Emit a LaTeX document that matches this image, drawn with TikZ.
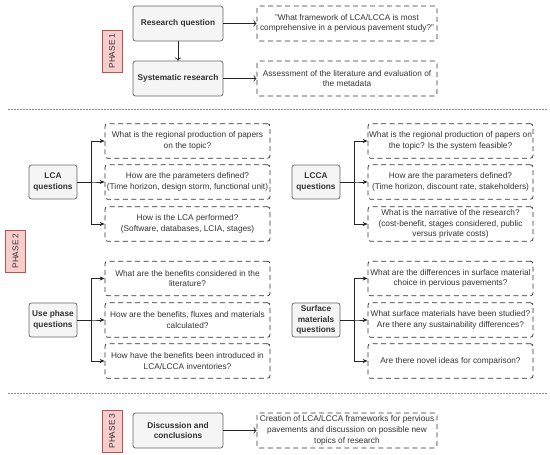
\documentclass[tikz,border=0pt]{standalone}
\usepackage{fontspec}
\setmainfont{Liberation Sans}
\usetikzlibrary{arrows.meta}
\definecolor{boxfill}{HTML}{F5F5F5}
\definecolor{boxline}{HTML}{666666}
\definecolor{phasefill}{HTML}{F8CECC}
\definecolor{phaseline}{HTML}{B85450}
\definecolor{ink}{HTML}{333333}

\tikzset{
  gbox/.style={draw=boxline, fill=boxfill, line width=0.7pt, rounded corners=2.5pt, align=center,
    font=\fontsize{8.3}{10.7}\selectfont\bfseries, text=ink, inner sep=1pt},
  qbox/.style={draw=ink, line width=0.75pt, dash pattern=on 5pt off 3.5pt, rounded corners=2.5pt, align=center,
    font=\fontsize{8.3}{10.7}\selectfont, text=ink, inner sep=1pt},
  phase/.style={draw=phaseline, fill=phasefill, line width=0.7pt, rotate=90, font=\fontsize{8.3}{10}\selectfont,
    text=ink, minimum width=42pt, minimum height=20pt, inner sep=1pt},
  arr/.style={draw=black!85, line width=0.7pt, -{Stealth[length=5pt,width=4pt]}},
  sep/.style={draw=black!45, dash pattern=on 1.5pt off 1.5pt, line width=0.8pt}
}

\begin{document}
\begin{tikzpicture}[x=1pt, y=-1pt]
\useasboundingbox (0,0) rectangle (550,455);

% phase 1
\node (ph1) at (112,51) [phase] {PHASE 1};
\node (rq) at (178,23.5) [gbox, minimum width=90pt, minimum height=35pt] {Research question};
	\node (rqq) at (347,23.5) [qbox, minimum width=180pt, minimum height=35pt]
		{"What framework of LCA/LCCA is most\\comprehensive in a pervious pavement study?"} edge[arr, <-] (rq);
\node (sr) at (178,78.5) [gbox, minimum width=90pt, minimum height=35pt] {Systematic research} edge[arr, <-] (rq);
	\node (srq) at (347,78.5) [qbox, minimum width=180pt, minimum height=35pt]
		{Assessment of the literature and evaluation of\\the metadata} edge[arr, <-] (sr);

\coordinate (s1a) at (8,109);
\coordinate (s1b) at (547,109);
\draw[sep] (s1a) -- (s1b);

% phase 2
\node (ph2) at (15.5,251) [phase] {PHASE 2};
\tikzset{gsmall/.style={gbox, minimum width=48pt, minimum height=34pt},
  qsmall/.style={qbox, minimum width=165pt, minimum height=34.5pt}}

\node (lca) at (53,182) [gsmall] {LCA\\questions};
	\node (lca1) at (187.5,141) [qsmall] {What is the regional production of papers\\on the topic?};
	\node (lca2) at (187.5,182) [qsmall] {How are the parameters defined?\\(Time horizon, design storm, functional unit)};
	\node (lca3) at (187.5,224) [qsmall] {How is the LCA performed?\\(Software, databases, LCIA, stages)};

\node (lcca) at (316,182) [gsmall] {LCCA\\questions};
	\node (lcca1) at (450.5,141) [qsmall] {What is the regional production of papers on\\the topic? Is the system feasible?};
	\node (lcca2) at (450.5,182) [qsmall] {How are the parameters defined?\\(Time horizon, discount rate, stakeholders)};
	\node (lcca3) at (450.5,224) [qsmall] {What is the narrative of the research?\\(cost-benefit, stages considered, public\\versus private costs)};

\node (use) at (53,320) [gsmall] {Use phase\\questions};
	\node (use1) at (187.5,278.5) [qsmall] {What are the benefits considered in the\\literature?};
	\node (use2) at (187.5,320) [qsmall] {How are the benefits, fluxes and materials\\calculated?};
	\node (use3) at (187.5,361) [qsmall] {How have the benefits been introduced in\\LCA/LCCA inventories?};

\node (surf) at (316,320) [gsmall] {Surface\\materials\\questions};
	\node (surf1) at (450.5,278.5) [qsmall] {What are the differences in surface material\\choice in pervious pavements?};
	\node (surf2) at (450.5,320) [qsmall] {What surface materials have been studied?\\Are there any sustainability differences?};
	\node (surf3) at (450.5,361) [qsmall] {Are there novel ideas for comparison?};

\foreach \g in {lca, lcca, use, surf}
	\foreach \i in {1,2,3}
		\draw[arr] (\g.east) -- ++(14,0) |- (\g\i.west);

\coordinate (s2a) at (8,393);
\coordinate (s2b) at (547,393);
\draw[sep] (s2a) -- (s2b);

% phase 3
\node (ph3) at (112,431) [phase] {PHASE 3};
\node (dc) at (178,430.5) [gbox, minimum width=90pt, minimum height=35pt] {Discussion and\\conclusions};
	\node (dcq) at (347,430.5) [qbox, minimum width=180pt, minimum height=35pt]
		{Creation of LCA/LCCA frameworks for pervious\\pavements and discussion on possible new\\topics of research} edge[arr, <-] (dc);
\end{tikzpicture}
\end{document}
